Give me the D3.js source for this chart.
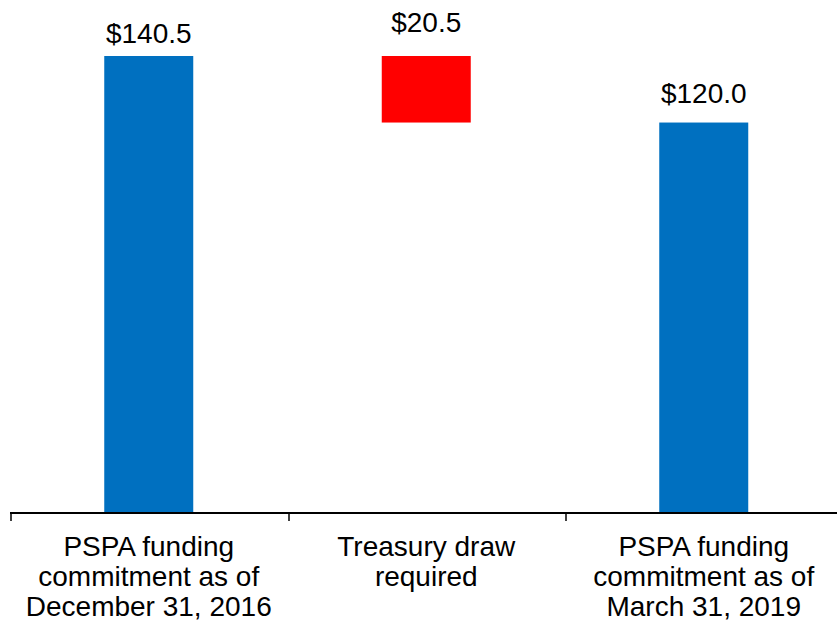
<!DOCTYPE html>
<html>
<head>
<meta charset="utf-8">
<script src="https://cdn.jsdelivr.net/npm/d3@7"></script>
<style>
  body { margin: 0; background: #fff; }
  text { font-family: Arial, "Liberation Sans", Helvetica, sans-serif; }
</style>
</head>
<body>
<div class="waterfall"></div>
<script>
// Data
const categories = ["start", "draw", "end"]
const categoryLines = [
  ["PSPA funding", "commitment as of", "December 31, 2016"],
  ["Treasury draw", "required"],
  ["PSPA funding", "commitment as of", "March 31, 2019"]
]
const barStart = [0, 120.0, 0]
const barEnd = [140.5, 140.5, 120.0]
const valueLabels = ["$140.5", "$20.5", "$120.0"]
const barKinds = ["total", "change", "total"]

const width = 837
const height = 625
const margin = { top: 56, right: 0, bottom: 113, left: 10 }
const baseY = height - margin.bottom

const svg = d3.select(".waterfall")
  .append("svg")
  .attr("width", width)
  .attr("height", height)

const x = d3.scaleBand()
  .domain(categories)
  .range([margin.left, margin.left + 277.5 * 3])
  .paddingInner(0)
  .paddingOuter(0)

const y = d3.scaleLinear()
  .domain([0, 140.5])
  .range([baseY, margin.top])

const barW = 89
const colors = { total: "#0070C0", change: "#FF0000" }
// gap between label baseline and bar top, as drawn in the reference
const labelGaps = [13, 24, 20]

const rows = categories.map((c, i) => ({
  cat: c, lo: barStart[i], hi: barEnd[i], label: valueLabels[i], kind: barKinds[i],
  lines: categoryLines[i], gap: labelGaps[i]
}))

// Bars
svg.selectAll("rect.bar")
  .data(rows)
  .join("rect")
  .attr("class", "bar")
  .attr("x", d => x(d.cat) + x.bandwidth() / 2 - barW / 2)
  .attr("y", d => y(d.hi))
  .attr("width", barW)
  .attr("height", d => y(d.lo) - y(d.hi))
  .attr("fill", d => colors[d.kind])

// Value labels
svg.selectAll("text.val")
  .data(rows)
  .join("text")
  .attr("class", "val")
  .attr("x", d => x(d.cat) + x.bandwidth() / 2)
  .attr("y", d => y(d.hi) - d.gap)
  .attr("text-anchor", "middle")
  .style("font-size", "28px")
  .attr("fill", "#000")
  .text(d => d.label)

// Axis line and ticks at band edges
svg.append("line")
  .attr("x1", margin.left)
  .attr("x2", width)
  .attr("y1", baseY + 1)
  .attr("y2", baseY + 1)
  .attr("stroke", "#000")
  .attr("stroke-width", 2)

const tickXs = categories.map(c => x(c))
svg.selectAll("line.tick")
  .data(tickXs)
  .join("line")
  .attr("class", "tick")
  .attr("x1", d => Math.round(d) + 1)
  .attr("x2", d => Math.round(d) + 1)
  .attr("y1", baseY)
  .attr("y2", baseY + 9)
  .attr("stroke", "#000")
  .attr("stroke-width", 1.5)

// Category labels
const catG = svg.selectAll("text.cat")
  .data(rows)
  .join("text")
  .attr("class", "cat")
  .attr("text-anchor", "middle")
  .style("font-size", "28px")
  .attr("fill", "#000")

catG.selectAll("tspan")
  .data(d => d.lines.map(l => ({ l, cx: x(d.cat) + x.bandwidth() / 2 })))
  .join("tspan")
  .attr("x", d => d.cx)
  .attr("y", (d, i) => 556 + i * 30)
  .text(d => d.l)
</script>
</body>
</html>
